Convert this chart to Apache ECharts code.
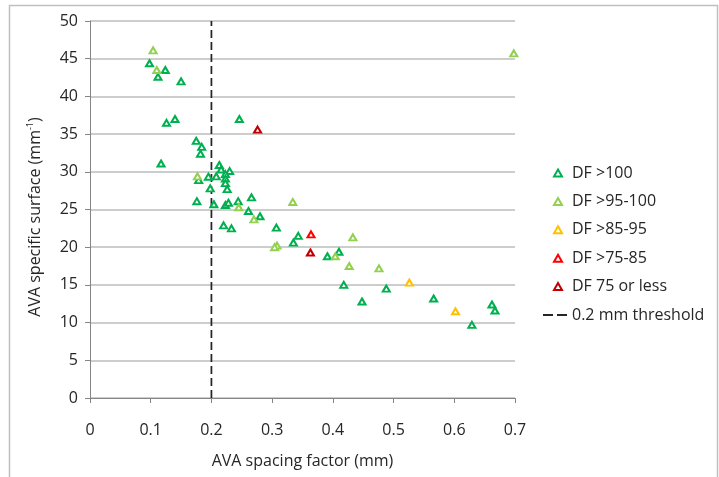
<!DOCTYPE html>
<html>
<head>
<meta charset="utf-8">
<style>
  html, body { margin: 0; padding: 0; background: #fff; }
  #chart { width: 719px; height: 477px; }
</style>
<script src="https://cdn.jsdelivr.net/npm/echarts@6/dist/echarts.min.js"></script>
</head>
<body>
<div id="chart"></div>
<script>
// AVA spacing factor (mm) vs. specific surface (mm^-1), grouped by durability factor
const dfOver100 = [
  [0.098, 44.4], [0.124, 43.5], [0.112, 42.6], [0.150, 42.0], [0.126, 36.5],
  [0.140, 37.0], [0.246, 37.0], [0.175, 34.1], [0.184, 33.3], [0.182, 32.4],
  [0.117, 31.1], [0.213, 30.9], [0.216, 30.3], [0.230, 30.1], [0.195, 29.35],
  [0.208, 29.4], [0.179, 28.9], [0.223, 29.7], [0.223, 29.1], [0.223, 28.5],
  [0.198, 27.8], [0.226, 27.7], [0.176, 26.1], [0.204, 25.7], [0.223, 25.6],
  [0.228, 25.9], [0.244, 26.1], [0.266, 26.6], [0.261, 24.8], [0.280, 24.1],
  [0.220, 22.9], [0.233, 22.5], [0.307, 22.6], [0.343, 21.5], [0.335, 20.6],
  [0.391, 18.8], [0.410, 19.4], [0.418, 15.0], [0.488, 14.5], [0.448, 12.8],
  [0.566, 13.2], [0.662, 12.4], [0.667, 11.6], [0.629, 9.7]
];
const df95to100 = [
  [0.104, 46.1], [0.110, 43.5], [0.177, 29.4], [0.245, 25.3], [0.334, 26.0],
  [0.270, 23.7], [0.308, 20.2], [0.304, 20.0], [0.404, 18.8], [0.433, 21.3],
  [0.427, 17.5], [0.476, 17.2], [0.698, 45.7]
];
const df85to95 = [[0.526, 15.3], [0.602, 11.5]];
const df75to85 = [[0.364, 21.7]];
const df75orLess = [[0.276, 35.6], [0.363, 19.3]];
const thresholdX = 0.2;
const yRange = [0, 50];

const seriesNames = ['DF >100', 'DF >95-100', 'DF >85-95', 'DF >75-85', 'DF 75 or less'];
const seriesColors = ['#00b050', '#92d050', '#ffc000', '#ff0000', '#c00000'];
const seriesData = [dfOver100, df95to100, df85to95, df75to85, df75orLess];
const thresholdName = '0.2 mm threshold';

const FONT = '"Open Sans", "Noto Sans", sans-serif';
const TEXT = '#262626';

const chart = echarts.init(document.getElementById('chart'), null, { renderer: 'canvas' });

const scatterSeries = seriesNames.map((name, i) => ({
  name,
  type: 'scatter',
  data: seriesData[i],
  symbol: 'triangle',
  symbolSize: [7, 6],
  z: 3 + i,
  itemStyle: { color: '#ffffff', borderColor: seriesColors[i], borderWidth: 2, opacity: 1 },
  emphasis: { disabled: true }
}));

chart.setOption({
  animation: false,
  backgroundColor: '#ffffff',
  textStyle: { fontFamily: FONT },
  grid: { left: 90, right: 204, top: 21, bottom: 79 },
  xAxis: {
    type: 'value',
    min: 0, max: 0.7, interval: 0.1,
    name: 'AVA spacing factor (mm)',
    nameLocation: 'middle',
    nameGap: 54,
    nameTextStyle: { fontFamily: FONT, fontSize: 16, color: TEXT, lineHeight: 18 },
    axisLine: { show: true, lineStyle: { color: '#868686', width: 1 } },
    axisTick: { show: true, inside: false, length: 5, lineStyle: { color: '#868686' } },
    axisLabel: { fontFamily: FONT, fontSize: 16, color: TEXT, margin: 24, lineHeight: 16 },
    splitLine: { show: false }
  },
  yAxis: {
    type: 'value',
    min: yRange[0], max: yRange[1], interval: 5,
    name: 'AVA specific surface (mm{sup|-1})',
    nameLocation: 'middle',
    nameGap: 46,
    nameTextStyle: {
      fontFamily: FONT, fontSize: 16, color: TEXT, lineHeight: 18,
      padding: [0, 15, 0, 0],
      rich: { sup: { fontFamily: FONT, fontSize: 9, color: TEXT, verticalAlign: 'top', lineHeight: 18, padding: [0, 0, 6, 0] } }
    },
    axisLine: { show: true, lineStyle: { color: '#868686', width: 1 } },
    axisTick: { show: true, inside: false, length: 5, lineStyle: { color: '#868686' } },
    axisLabel: { fontFamily: FONT, fontSize: 16, color: TEXT, margin: 12 },
    splitLine: { show: true, lineStyle: { color: '#bdbdbd', width: 1.5 } }
  },
  legend: [
    {
      data: seriesNames.map(n => ({ name: n, icon: 'triangle' })),
      orient: 'vertical',
      left: 553,
      top: 165,
      padding: 0,
      itemWidth: 8,
      itemHeight: 7,
      itemGap: 12.4,
      selectedMode: false,
      formatter: n => '{g|}' + n,
      textStyle: { fontFamily: FONT, fontSize: 16, color: TEXT, lineHeight: 16, rich: { g: { width: 5 } } }
    },
    {
      data: [{ name: thresholdName, icon: 'path://M0,0H10V2H0Z M14,0H24V2H14Z', itemStyle: { color: '#262626', borderWidth: 0 } }],
      orient: 'vertical',
      left: 543,
      top: 307,
      padding: 0,
      itemWidth: 24,
      itemHeight: 2,
      selectedMode: false,
      textStyle: { fontFamily: FONT, fontSize: 16, color: TEXT, lineHeight: 16 }
    }
  ],
  graphic: [{
    type: 'rect',
    silent: true,
    shape: { x: 9.5, y: 5.5, width: 708, height: 490 },
    style: { fill: null, stroke: '#bfbfbf', lineWidth: 1.5 },
    z: -1
  }],
  series: [
    {
      name: thresholdName,
      type: 'line',
      data: [[thresholdX, yRange[0]], [thresholdX, yRange[1]]],
      symbol: 'none',
      z: 2,
      lineStyle: { color: '#262626', width: 1.75, type: [8, 4] },
      itemStyle: { color: '#262626' },
      emphasis: { disabled: true }
    },
    ...scatterSeries
  ]
});
</script>
</body>
</html>
